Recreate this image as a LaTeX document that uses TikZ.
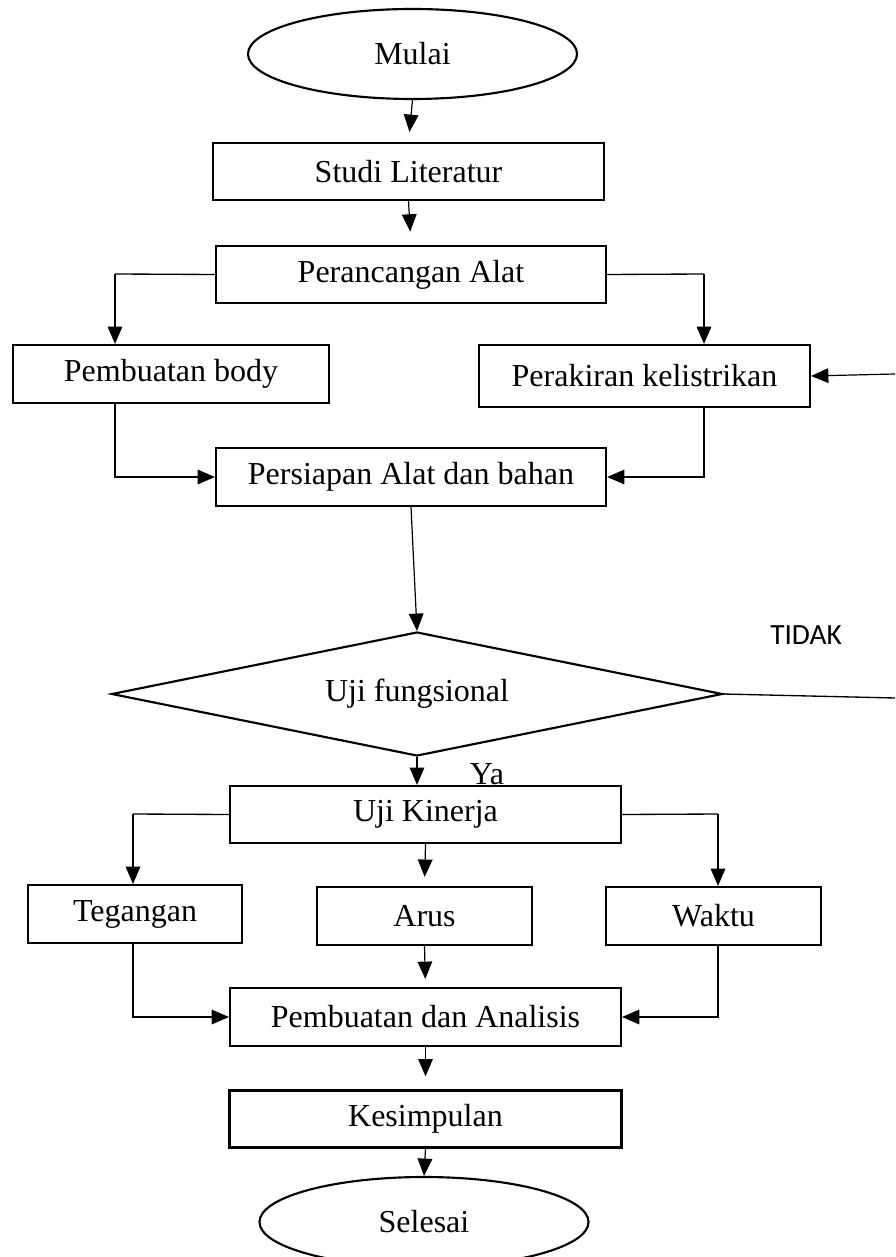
\documentclass[tikz,border=0pt]{standalone}
\usepackage{fontspec}
\setmainfont{Liberation Serif}
\newfontfamily\tidakfont{Carlito}
\usetikzlibrary{arrows.meta,positioning,shapes.geometric}
\tikzset{
  kotak/.style = {draw, line width=0.8pt, minimum height=21.4pt, inner sep=0pt,
                  align=center, font=\fontsize{12}{14}\selectfont},
  oval/.style  = {draw, ellipse, line width=0.8pt, minimum width=123.4pt,
                  minimum height=33.75pt, inner sep=0pt, font=\fontsize{12}{14}\selectfont},
  cek/.style   = {draw, diamond, aspect=4.93, line width=0.8pt, minimum width=229.1pt,
                  minimum height=46.5pt, inner sep=0pt, font=\fontsize{12}{14}\selectfont},
  ar/.style    = {-{Triangle[length=6.5pt,width=5.5pt]}, line width=0.45pt},
  ln/.style    = {line width=0.5pt},
  lbl/.style   = {font=\fontsize{12}{14}\selectfont}
}

\begin{document}
\begin{tikzpicture}[x=0.375pt, y=-0.375pt]
  \useasboundingbox (0,0) rectangle (895,1257);
  \node[oval] (mulai) at (412.5,54) {Mulai};
  \node[kotak, minimum width=146.6pt] (studi) at (408.5,171.5) {Studi Literatur};
  \node[kotak, minimum width=146.3pt] (rancang) at (411,274.5) {Perancangan Alat};
  \node[kotak, minimum width=118.5pt, minimum height=21.75pt] (body) at (171,374) {Pembuatan body};
  \node[kotak, minimum width=124.1pt, minimum height=23.25pt] (rakit) at (644.5,376) {Perakiran kelistrikan};
  \node[kotak, minimum width=146.3pt, minimum height=21.75pt] (siap) at (411,477) {Persiapan Alat dan bahan};
  \node[cek] (uji) at (417,694) {Uji fungsional};
  \node[kotak, minimum width=146.6pt] (kinerja) at (425.5,814.5) {Uji Kinerja};
  \node[kotak, minimum width=80.3pt, minimum height=21.75pt] (tegangan) at (135,914) {Tegangan};
  \node[kotak, minimum width=80.6pt, minimum height=21.75pt] (arus) at (424.5,916) {Arus};
  \node[kotak, minimum width=80.6pt, minimum height=21.75pt] (waktu) at (713.5,916) {Waktu};
  \node[kotak, minimum width=146.6pt, minimum height=21.75pt] (analisis) at (425.5,1017) {Pembuatan dan Analisis};
  \node[kotak, minimum width=147pt] (simpul) at (425.5,1119) {Kesimpulan};
  \node[oval] (selesai) at (424,1222) {Selesai};
  \node[font=\tidakfont\fontsize{11}{13}\selectfont] (tidak) at (806,635) {TIDAK};
  \node[lbl] (ya) at (487,774) {Ya};

  \coordinate (kiri1) at (115,274);
  \coordinate (kanan1) at (704,274);
  \coordinate (kiri2) at (133,814);
  \coordinate (kanan2) at (718,814);
  \coordinate (tepi1) at (895,374);
  \coordinate (tepi2) at (895,698);

  \foreach \s/\t/\g in {mulai/studi/3.75pt, studi/rancang/5pt, siap/uji/0pt,
                        kinerja/arus/3.4pt, arus/analisis/3pt, analisis/simpul/4.9pt, simpul/selesai/0pt}
    {\draw[ar, shorten >=\g] (\s.south) -- (\t.north);}
  \draw[ar] (uji.south) -- (uji.south |- kinerja.north);
  \draw[ln] (rancang.west) -- (kiri1);
  \draw[ar] (kiri1) -- (body.north -| kiri1);
  \draw[ln] (rancang.east) -- (kanan1);
  \draw[ar] (kanan1) -- (rakit.north -| kanan1);
  \draw[ar] (body.south -| kiri1) |- (siap.west);
  \draw[ar] (rakit.south -| kanan1) |- (siap.east);
  \draw[ln] (uji.east) -- (tepi2);
  \draw[ar] (tepi1) -- (rakit.east);
  \draw[ln] (kinerja.west) -- (kiri2);
  \draw[ar] (kiri2) -- (tegangan.north -| kiri2);
  \draw[ln] (kinerja.east) -- (kanan2);
  \draw[ar] (kanan2) -- (waktu.north -| kanan2);
  \draw[ar] (tegangan.south -| kiri2) |- (analisis.west);
  \draw[ar] (waktu.south -| kanan2) |- (analisis.east);
\end{tikzpicture}
\end{document}
